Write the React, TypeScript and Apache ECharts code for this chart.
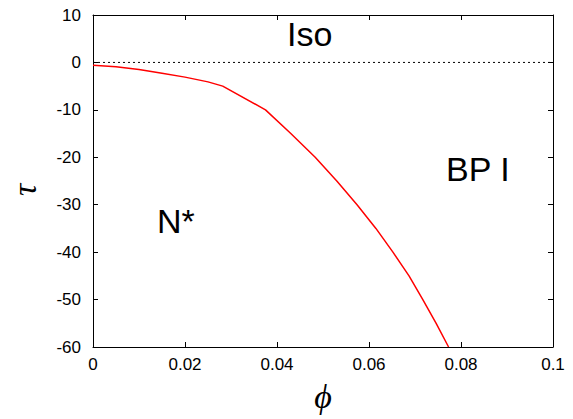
import React, { useEffect, useRef } from "react";
import * as echarts from "echarts";

const phiValues = [0, 0.005, 0.01, 0.015, 0.02, 0.025, 0.0282, 0.0375, 0.043, 0.0483, 0.053, 0.0574, 0.0615, 0.0652, 0.0687, 0.0717, 0.0746, 0.0773];
const tauValues = [-0.6, -0.9, -1.5, -2.3, -3.1, -4.1, -5, -10, -15, -20, -25, -30, -35, -40, -45, -50, -55, -60];
const zeroLine = [[0, 0], [0.1, 0]];
const xTicks = { min: 0, max: 0.1, interval: 0.02 };
const yTicks = { min: -60, max: 10, interval: 10 };
const regionLabels = [
  { text: "Iso", x: 287, y: 51 },
  { text: "BP I", x: 446, y: 186 },
  { text: "N*", x: 157, y: 238 },
];
const xAxisName = "ϕ";
const yAxisName = "τ";

export default function App() {
  const ref = useRef<HTMLDivElement>(null);
  useEffect(() => {
    if (!ref.current) return;
    const chart = echarts.init(ref.current, null, { renderer: "svg" });
    const font = "'Liberation Sans', Arial, Helvetica, sans-serif";
    const serif = "'Liberation Serif', 'DejaVu Serif', serif";
    const axisLine = { show: true, onZero: false, lineStyle: { color: "#000", width: 1 } };
    const tick = { show: true, inside: true, length: 5, lineStyle: { color: "#000" } };
    const xFmt = (v: number) => (v === 0 ? "0" : String(Number(v.toFixed(2))));
    chart.setOption({
      animation: false,
      backgroundColor: "#fff",
      grid: { left: 93, right: 20, top: 15, bottom: 72, containLabel: false, outerBoundsMode: "none" },
      xAxis: [
        {
          type: "value", ...xTicks, position: "bottom",
          axisLine, axisTick: tick, splitLine: { show: false },
          axisLabel: { color: "#000", fontSize: 17, fontFamily: font, margin: 9, formatter: xFmt },
        },
        {
          type: "value", ...xTicks, position: "top",
          axisLine, axisTick: tick, splitLine: { show: false }, axisLabel: { show: false },
        },
      ],
      yAxis: [
        {
          type: "value", ...yTicks, position: "left",
          axisLine, axisTick: tick, splitLine: { show: false },
          axisLabel: { color: "#000", fontSize: 17, fontFamily: font, margin: 12 },
        },
        {
          type: "value", ...yTicks, position: "right",
          axisLine, axisTick: tick, splitLine: { show: false }, axisLabel: { show: false },
        },
      ],
      series: [
        {
          type: "line", data: zeroLine, showSymbol: false, silent: true,
          lineStyle: { color: "#000", width: 1, type: [2, 3] },
        },
        {
          type: "line", data: phiValues.map((p, i) => [p, tauValues[i]]), showSymbol: false,
          lineStyle: { color: "#ff0000", width: 1.5 },
        },
      ],
      graphic: [
        ...regionLabels.map((l) => ({
          type: "text", x: l.x, y: l.y,
          style: { text: l.text, font: `34px ${font}`, fill: "#000", verticalAlign: "bottom" },
        })),
        {
          type: "text", x: 323, y: 396,
          style: { text: xAxisName, font: `italic 34px ${serif}`, fill: "#000", align: "center", verticalAlign: "middle" },
        },
        {
          type: "text", x: 24, y: 190, rotation: Math.PI / 2,
          style: { text: yAxisName, font: `italic 34px ${serif}`, fill: "#000", align: "center", verticalAlign: "middle" },
        },
      ],
    });
    return () => chart.dispose();
  }, []);
  return (
    <div
      ref={ref}
      style={{ position: "fixed", left: 0, top: 0, width: 573, height: 419 }}
    />
  );
}
